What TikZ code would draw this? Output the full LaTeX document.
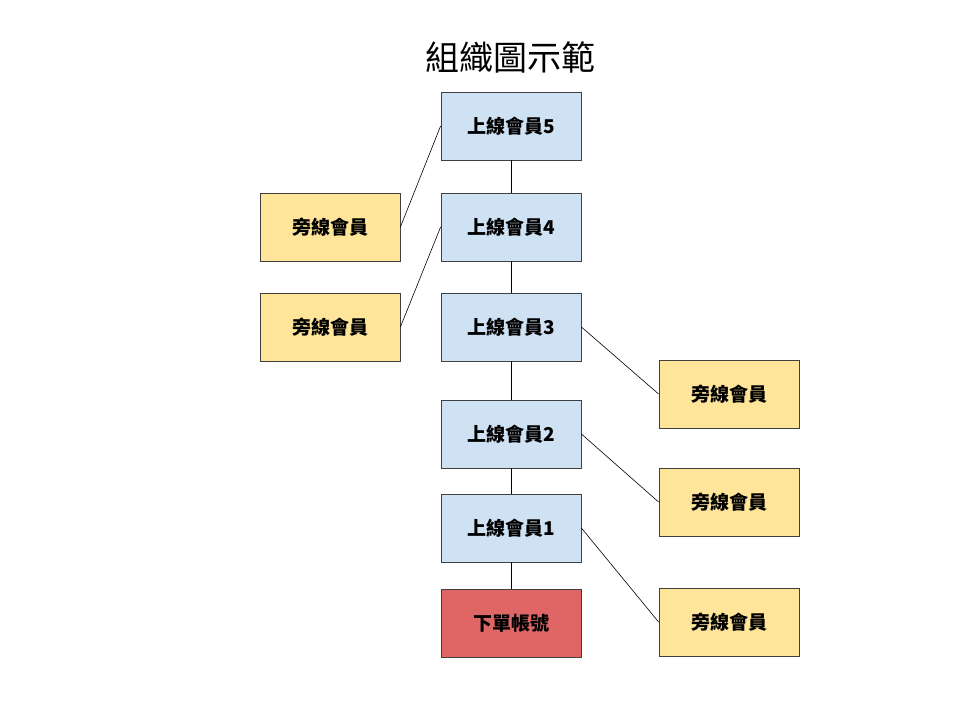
\documentclass[tikz,border=0pt]{standalone}
\usepackage{fontspec}
\newfontfamily\cjk{Noto Sans CJK TC}
\definecolor{bluef}{HTML}{CFE2F3}
\definecolor{yelf}{HTML}{FFE599}
\definecolor{redf}{HTML}{E06666}
\begin{document}
\begin{tikzpicture}[x=1pt,y=-1pt,
  box/.style={draw=black!75,line width=0.8pt,minimum width=140pt,minimum height=68pt,inner sep=0pt,font=\cjk\bfseries\fontsize{19}{22}\selectfont},
  up/.style={box,fill=bluef},
  side/.style={box,fill=yelf},
  acct/.style={box,fill=redf},
  ln/.style={draw=black,line width=0.6pt}]
\useasboundingbox (0,0) rectangle (960,720);
\node[font=\cjk\fontsize{34}{40}\selectfont] (title) at (510,57) {組織圖示範};
\node[up] (u5) at (511,126) {上線會員5};
\node[up] (u4) at (511,227) {上線會員4};
\node[up] (u3) at (511,327) {上線會員3};
\node[up] (u2) at (511,434) {上線會員2};
\node[up] (u1) at (511,528) {上線會員1};
\node[acct] (acc) at (511,623) {下單帳號};
\node[side] (l1) at (330,227) {旁線會員};
\node[side] (l2) at (330,327) {旁線會員};
\node[side] (r1) at (729,394) {旁線會員};
\node[side] (r2) at (729,502) {旁線會員};
\node[side] (r3) at (729,622) {旁線會員};
\draw[ln] (u5) -- (u4); \draw[ln] (u4) -- (u3); \draw[ln] (u3) -- (u2);
\draw[ln] (u2) -- (u1); \draw[ln] (u1) -- (acc);
\draw[ln] (l1.east) -- (u5.west);
\draw[ln] (l2.east) -- (u4.west);
\draw[ln] (u3.east) -- (r1.west);
\draw[ln] (u2.east) -- (r2.west);
\draw[ln] (u1.east) -- (r3.west);
\end{tikzpicture}
\end{document}
